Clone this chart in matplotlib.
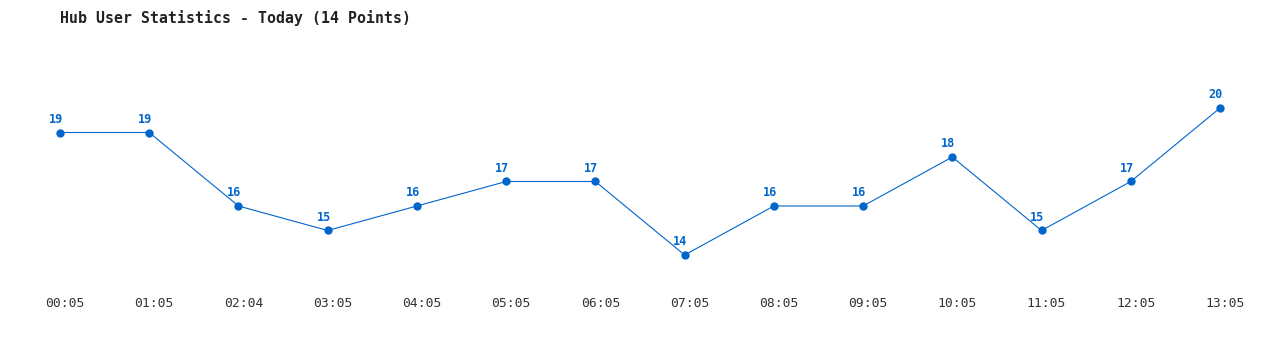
import matplotlib
matplotlib.use("Agg")
import matplotlib.pyplot as plt
from matplotlib.transforms import ScaledTranslation

times = ["00:05", "01:05", "02:04", "03:05", "04:05", "05:05", "06:05",
         "07:05", "08:05", "09:05", "10:05", "11:05", "12:05", "13:05"]
users = [19, 19, 16, 15, 16, 17, 17, 14, 16, 16, 18, 15, 17, 20]

blue = "#0066cc"
mono = "DejaVu Sans Mono"

fig = plt.figure(figsize=(12.8, 3.5), dpi=100)
# plot box: x 60..1220 px, y 40..290 px
ax = fig.add_axes([60 / 1280, 60 / 350, 1160 / 1280, 250 / 350])

x = list(range(len(users)))
ax.plot(x, users, color=blue, linewidth=0.8, marker="o", markersize=5,
        clip_on=False)
for xi, v in zip(x, users):
    ax.annotate(str(v), (xi, v), xytext=(-3, 9.6), textcoords="offset points",
                ha="center", va="center", fontsize=8.5, fontweight="bold",
                color=blue, family=mono)

ax.set_xlim(0, len(users) - 1)
ax.set_ylim(12.571, 22.776)
ax.set_xticks(x)
ax.set_xticklabels(times, family=mono, fontsize=9.4, color="#333333")
ax.tick_params(axis="x", length=0, pad=5)
shift = ScaledTranslation(5 / 100, 0, fig.dpi_scale_trans)
for lbl in ax.get_xticklabels():
    lbl.set_transform(lbl.get_transform() + shift)
ax.set_yticks([])
for s in ax.spines.values():
    s.set_visible(False)

fig.text(60 / 1280, 1 - 18 / 350, "Hub User Statistics - Today (14 Points)",
         family=mono, fontsize=10.7, fontweight="bold", color="#222222",
         va="center", ha="left")

fig.savefig("out.png", dpi=100)
